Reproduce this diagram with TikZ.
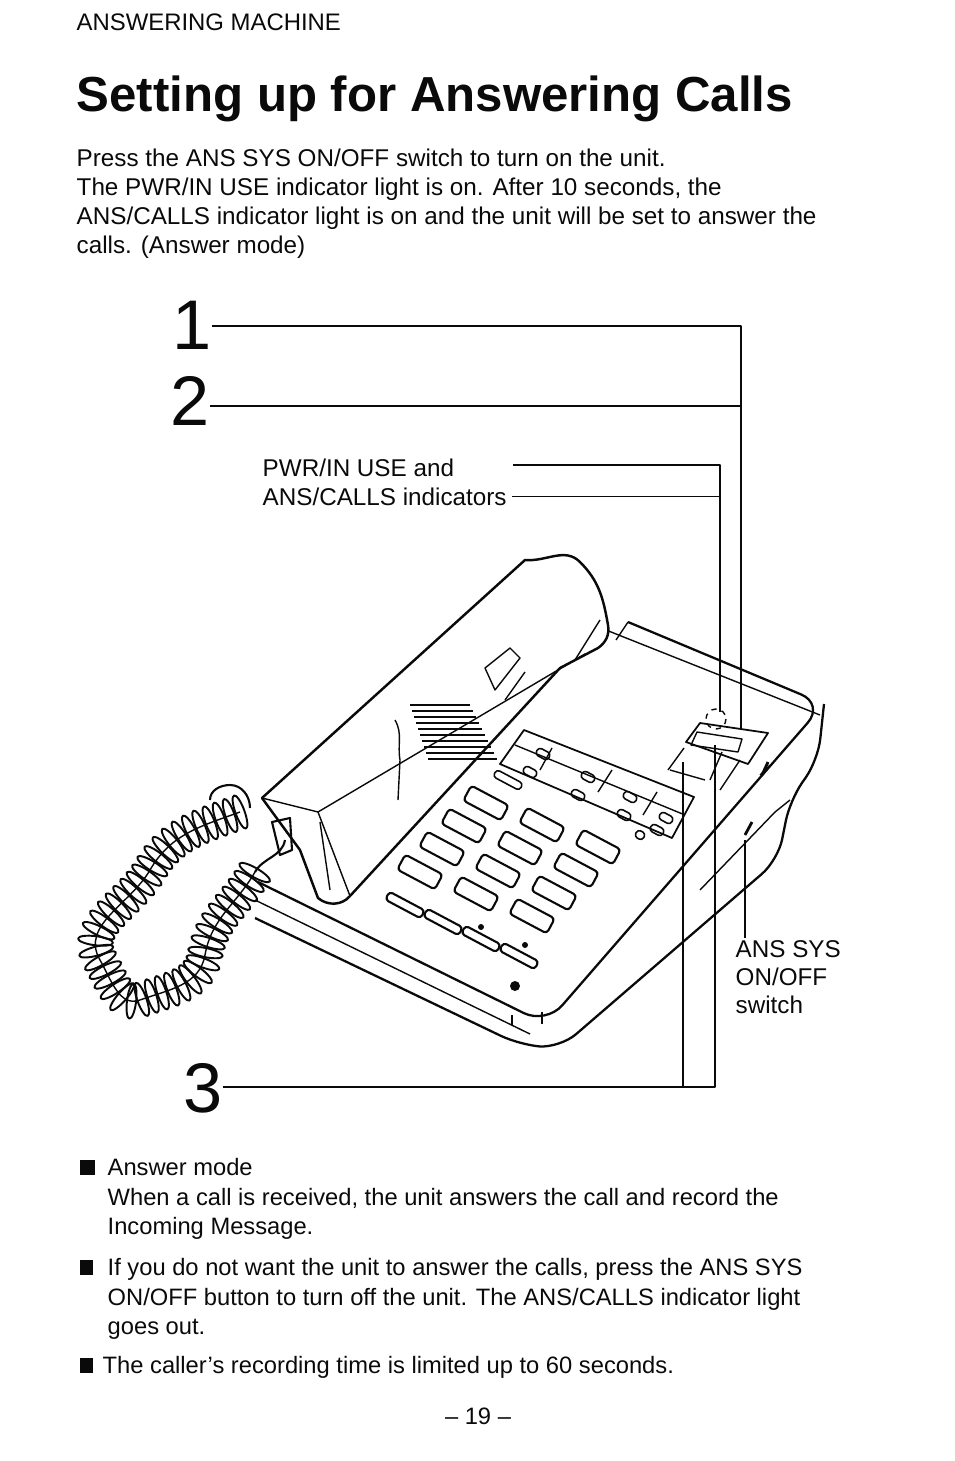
\documentclass[tikz,border=0pt]{standalone}
\usepackage{fontspec}
\setmainfont{Liberation Sans}
\usetikzlibrary{decorations.markings}
\tikzstyle{every path}=[line width=0.8pt, line join=round]
\tikzstyle{body} = [anchor=base west, inner sep=0pt, font=\fontsize{13.8}{16.4}\selectfont]
\tikzstyle{note} = [anchor=base west, inner sep=0pt, font=\fontsize{13.5}{16.4}\selectfont]
\tikzstyle{bignum} = [anchor=base west, inner sep=0pt, font=\fontsize{40}{42}\selectfont]
\tikzstyle{callout} = [line width=0.9pt]
\tikzstyle{key} = [draw, line width=1.2pt, rounded corners=2pt, rotate=-28, minimum width=0.85cm, minimum height=0.34cm, inner sep=0pt]
\tikzstyle{smallkey} = [draw, line width=0.9pt, rounded corners=2pt, rotate=-28, minimum width=0.28cm, minimum height=0.16cm, inner sep=0pt]
\tikzstyle{coil} = [postaction={decorate}, decoration={markings,
    mark=between positions 0 and 1 step 6pt with {\draw[line width=1.1pt] (0,0) ellipse (2.6pt and 10pt);}}]
\definecolor{ink}{RGB}{10,10,10}

\begin{document}
\begin{tikzpicture}[x=0.02cm, y=-0.02cm, color=ink]
            \useasboundingbox (0,0) rectangle (954,1461);

            % header and intro text
            \node[anchor=base west, inner sep=0pt, font=\fontsize{13.6}{14}\selectfont] (head) at (76,30) {ANSWERING MACHINE};
            \node[anchor=base west, inner sep=0pt, font=\fontsize{28}{30}\selectfont\bfseries] (title) at (76,111) {Setting up for Answering Calls};
            \node[body] (intro1) at (76,166) {Press the ANS SYS ON/OFF switch to turn on the unit.};
            \node[body] (intro2) at (76,195) {The PWR/IN USE indicator light is on. After 10 seconds, the};
            \node[body] (intro3) at (76,224) {ANS/CALLS indicator light is on and the unit will be set to answer the};
            \node[body] (intro4) at (76,253) {calls. (Answer mode)};

            % base of the telephone
            \draw[line width=1.3pt, rounded corners=14pt] (628,622) -- (824,704) -- (546,1024) -- (258,882);
            \draw[line width=1.3pt, rounded corners=12pt] (824,704) -- (818,760) -- (790,800) -- (778,860)
                -- (560,1048) -- (520,1045) -- (255,918);
            \draw (790,800) -- (775,812) -- (700,890);
            \draw (255,900) -- (530,1034);
            \draw (512,1015) -- (512,1025);
            \draw (542,1012) -- (542,1024);
            \draw (616,640) -- (628,622);
            \draw (595,645) -- (606,630) -- (820,715);
            \draw (760,775) -- (770,765);
            \draw[line width=1.6pt] (745,835) -- (752,822);
            \draw[line width=1.6pt] (762,775) -- (768,762);

            % display panel with memory keys
            \draw[line width=1pt] (524,730) -- (694,797) -- (672,838) -- (500,764) -- cycle;
            \draw (515,745) -- (685,815);
            \draw (540,770) -- (552,748) (598,792) -- (612,770) (643,815) -- (657,792);
            \foreach \cx/\cy in {543/754, 530/772, 588/777, 578/795, 630/797, 624/815, 666/818, 657/830}
                \node[smallkey] (mem\cx) at (\cx,\cy) {};
            \node[smallkey, minimum width=0.6cm] (redial) at (508,780) {};
            \node[smallkey, minimum width=0.18cm] (flash) at (640,835) {};

            % answering panel
            \draw[line width=1pt] (700,723) -- (768,733) -- (748,764) -- (686,742) -- cycle;
            \draw (697,732) -- (742,739) -- (738,752) -- (691,745) -- cycle;
            \draw[dashed] (716,719) circle (10);
            \draw (684,748) -- (668,770) (670,770) -- (705,780);
            \draw (710,780) -- (722,752) (720,790) -- (740,760);

            % keypad
            \foreach \r in {0,...,3}
                \foreach \c in {0,...,2}
                    \node[key] (k\r\c) at ({486+56*\c-22*\r},{803+22*\c+23*\r}) {};
            \foreach \b in {0,...,3}
                \node[key, minimum width=0.8cm, minimum height=0.18cm] (fn\b) at ({405+38*\b},{905+17*\b}) {};
            \fill (481,927) circle (3) (525,945) circle (3);
            \fill (515,986) circle (5);

            % handset
            \draw[line width=1.4pt, fill=white] (262,798) -- (525,560) to[out=-5,in=135] (580,562)
                to[out=-45,in=100] (608,625) to[out=-80,in=35] (598,648) -- (560,668)
                -- (350,896) to[out=-130,in=-40] (318,898) -- (300,850) -- cycle;
            \draw (262,798) -- (318,812) -- (350,896);
            \draw (318,812) -- (585,654);
            \draw (320,822) -- (330,890);
            \draw (600,620) -- (575,660);
            % cradle and grille
            \draw (485,668) -- (510,648) -- (520,658) -- (495,690) -- cycle;
            \draw (505,700) -- (525,672);
            \foreach \g in {0,...,9}
                \draw (410+\g*2,{705+\g*6}) -- (470+\g*3,{705+\g*6});
            \draw (395,720) to[out=-60,in=100] (400,760) -- (398,800);

            % coiled cord
            \draw[coil] (240,812) to[out=200,in=60] (150,870) to[out=-120,in=120] (100,960)
                to[out=-60,in=200] (140,1000) to[out=20,in=-100] (205,955) to[out=80,in=-120] (255,872);
            \draw[line width=1.2pt] (210,800) to[out=90,in=180] (230,785) to[out=0,in=90] (250,808);
            \draw[line width=1.2pt] (272,822) -- (290,818) -- (292,850) -- (280,855) -- cycle;
            \draw[line width=1.2pt] (255,872) to[out=60,in=-100] (285,840);

            % callouts
            \node[bignum] (n1) at (172,349) {1};
            \node[bignum] (n2) at (170,425) {2};
            \node[bignum] (n3) at (183,1112) {3};
            \coordinate (ind) at (741,730);
            \draw[callout] (n1.east |- 0,326) -- (741,326) -- (ind);
            \draw[callout] (n2.east |- 0,406) -- (741,406);
            \node[body] (pwr1) at (262,476) {PWR/IN USE and};
            \node[body] (pwr2) at (262,505) {ANS/CALLS indicators};
            \coordinate (led) at (720,712);
            \draw[callout] (513,465) -- (720,465) -- (led);
            \draw[callout] (pwr2.east) ++(5,0) coordinate (p2e) -- (p2e -| led);
            \coordinate (panelA) at (683,762);
            \coordinate (panelB) at (715,745);
            \draw[callout] (n3.east |- 0,1087) -- (715,1087) -- (panelB);
            \draw[callout] (683,1087) -- (panelA);
            \node[body] (sw1) at (735,957) {ANS SYS};
            \node[body] (sw2) at (735,985) {ON/OFF};
            \node[body] (sw3) at (735,1013) {switch};
            \coordinate (swpt) at (745,840);
            \draw[callout] (swpt) -- (745,938);

            % notes
            \fill (80,1160) rectangle (95,1175);
            \node[note] (note1) at (107,1175) {Answer mode};
            \node[note] (note1b) at (107,1205) {When a call is received, the unit answers the call and record the};
            \node[note] (note1c) at (107,1234) {Incoming Message.};
            \fill (80,1260) rectangle (93,1275);
            \node[note] (note2) at (107,1275) {If you do not want the unit to answer the calls, press the ANS SYS};
            \node[note] (note2b) at (107,1305) {ON/OFF button to turn off the unit. The ANS/CALLS indicator light};
            \node[note] (note2c) at (107,1334) {goes out.};
            \fill (80,1358) rectangle (93,1373);
            \node[note] (note3) at (102,1373) {The caller's recording time is limited up to 60 seconds.};
            \node[anchor=base, inner sep=0pt, font=\fontsize{13.5}{15}\selectfont] (page) at (478,1424) {– 19 –};
\end{tikzpicture}
\end{document}
